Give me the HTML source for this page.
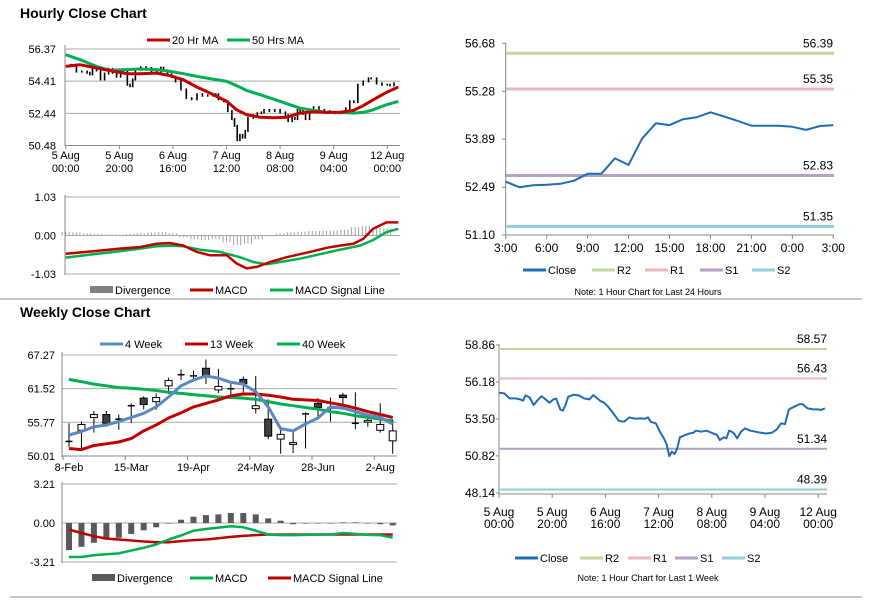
<!DOCTYPE html>
<html><head><meta charset="utf-8"><style>
body{margin:0;background:#fff;}
svg{display:block;font-family:"Liberation Sans",Arial,sans-serif;}
</style></head><body>
<svg id="c" width="873" height="601" xmlns="http://www.w3.org/2000/svg">
<text x="20" y="18" font-size="14" font-weight="bold">Hourly Close Chart</text>
<text x="20" y="317" font-size="14" font-weight="bold">Weekly Close Chart</text>
<line x1="0" y1="299" x2="862" y2="299" stroke="#888" stroke-width="1"/>
<line x1="10" y1="597" x2="862" y2="597" stroke="#888" stroke-width="1"/>
<g id="g"></g>
</svg>
<script>
// ---- Hourly (1 week) close data: hours since 5 Aug 00:00 and close values
const hwHours=[0,2,4,6,8,9,10,11.5,13,14.5,16,17.5,19,20.5,21.5,23,24,25,26,28,30,32,34,35.5,36.5,38,39.5,41,43,45,47,49,51,53,55,56,57,59,60.5,62,63,64,65,66,67,68,70,71.5,73,74,76,78,80,82,83,84.5,85.5,86.5,87.5,88.5,89.5,91,92.5,94.5,96.5,98.5,100.5,102.5,104.5,106,107.5,109,111,113,114,116,118,120,121,122.5];
const hwClose=[55.40,55.35,54.99,54.99,54.92,54.82,55.21,55.06,54.51,54.87,55.16,54.92,54.68,54.92,54.97,54.19,54.10,54.51,55.11,55.26,55.21,54.99,54.92,55.23,55.06,54.82,54.68,54.39,53.90,53.37,53.30,53.61,53.52,53.54,53.52,53.61,53.30,53.18,52.58,52.09,51.68,50.81,51.13,50.96,51.37,52.17,52.33,52.45,52.50,52.65,52.58,52.65,52.50,52.33,51.97,52.17,52.09,52.65,52.58,52.41,52.09,52.58,52.82,52.65,52.58,52.50,52.45,52.50,52.75,53.18,53.13,54.19,54.39,54.58,54.58,54.27,54.19,54.19,54.15,54.27];
const ma20Hours=[0,5.3,11.5,16.5,22.8,27.7,33.9,38.9,43.9,48.9,53.9,60.1,63.8,67.5,72.5,77.5,82.5,87.4,92.4,97.4,102.3,107.3,111.0,114.7,119.7,124.1];
const ma20=[55.31,55.41,55.21,55.05,54.86,54.86,54.90,54.74,54.49,54.05,53.68,53.17,52.66,52.36,52.21,52.17,52.21,52.46,52.54,52.50,52.50,52.62,52.91,53.27,53.72,54.05];
const ma50=[56.02,55.72,55.31,55.07,55.11,55.15,55.11,55.00,54.86,54.70,54.56,54.39,54.13,53.84,53.58,53.31,53.03,52.76,52.62,52.50,52.50,52.46,52.50,52.66,52.97,53.17];
const hTickLabels1=["5 Aug","5 Aug","6 Aug","7 Aug","8 Aug","9 Aug","12 Aug"];
const hTickLabels2=["00:00","20:00","16:00","12:00","08:00","04:00","00:00"];
const hYTicks=[56.37,54.41,52.44,50.48];
// Hourly MACD
const hmHours=[0,10.3,20.2,27.7,33.9,38.9,43.9,48.9,53.9,60.1,63.8,67.5,71.3,76.2,82.5,87.4,92.4,97.4,102.3,107.3,111.0,114.7,119.7,124.1];
const hMacd=[-0.49,-0.42,-0.35,-0.31,-0.22,-0.20,-0.27,-0.44,-0.53,-0.53,-0.75,-0.88,-0.84,-0.71,-0.58,-0.50,-0.42,-0.33,-0.27,-0.22,-0.09,0.18,0.35,0.35];
const hsHours=[0,10.3,20.2,27.7,33.9,40.2,43.9,50.1,57.6,65.0,70.0,75.0,80.0,87.4,94.9,102.3,109.8,114.7,119.7,124.1];
const hSignal=[-0.59,-0.50,-0.42,-0.35,-0.29,-0.27,-0.29,-0.38,-0.44,-0.58,-0.71,-0.77,-0.71,-0.62,-0.50,-0.38,-0.27,-0.12,0.09,0.18];
const hDiv=[0.10,0.08,0.06,0.05,0.03,0.03,0.04,0.06,0.08,0.09,0.06,-0.05,-0.10,-0.12,-0.10,-0.18,-0.26,-0.22,-0.10,-0.02,0.05,0.08,0.10,0.12,0.12,0.13,0.15,0.22,0.25,0.20,0.18];
const hmYTicks=[1.03,0.00,-1.03];
// ---- 24h chart
const dClose=[52.65,52.49,52.55,52.56,52.59,52.68,52.88,52.88,53.33,53.14,53.91,54.35,54.30,54.47,54.53,54.67,54.55,54.42,54.28,54.28,54.28,54.25,54.16,54.27,54.30];
const dLevels=[56.39,55.35,52.83,51.35];
const dYTicks=[56.68,55.28,53.89,52.49,51.10];
const dXLabels=["3:00","6:00","9:00","12:00","15:00","18:00","21:00","0:00","3:00"];
// ---- weekly 1 week chart levels
const wLevels=[58.57,56.43,51.34,48.39];
const wkYTicks=[58.86,56.18,53.50,50.82,48.14];
// ---- Weekly candles
const wOpen=[52.5,54.4,56.6,57.1,56.3,58.6,59.9,59.3,62.0,63.9,63.7,65.0,61.3,61.5,63.1,58.1,56.3,52.9,52.0,57.2,59.0,58.2,60.4,55.6,55.8,54.4,52.6];
const wClose=[52.5,55.4,57.1,55.6,56.3,58.6,58.8,60.0,62.9,63.9,63.7,63.7,61.9,61.5,62.4,58.6,53.4,53.7,52.3,57.2,58.3,58.2,60.0,55.6,56.1,55.4,54.3];
const wHigh=[55.6,55.9,57.7,57.7,57.1,59.0,60.2,60.7,63.4,64.8,64.6,66.5,64.9,62.4,63.6,63.7,59.7,54.6,54.3,57.5,59.9,60.0,60.8,60.9,57.0,59.0,56.3];
const wLow=[51.6,51.3,54.0,55.0,54.5,55.7,58.0,57.9,60.6,63.0,62.8,62.3,60.8,60.1,60.5,57.3,52.9,50.4,50.5,51.3,56.6,55.9,57.9,54.6,55.0,54.0,50.4];
const w4=[53.6,54.2,55.0,55.3,55.9,56.6,57.3,58.4,60.1,62.0,63.0,63.7,63.3,62.6,62.3,61.0,58.4,54.7,54.3,55.5,56.5,58.4,58.2,57.6,57.0,56.6,55.5];
const w13=[51.3,51.1,51.8,52.1,52.4,53.0,54.3,55.3,56.5,57.4,58.4,59.0,59.6,60.3,60.6,60.6,60.4,60.1,59.7,59.6,59.5,59.1,58.7,58.2,57.6,57.1,56.6];
const w40=[63.1,62.7,62.3,62.0,61.7,61.6,61.4,61.2,60.9,60.7,60.5,60.3,60.1,60.0,59.9,59.7,59.3,58.9,58.6,58.3,58.0,57.6,57.3,56.9,56.6,56.3,56.0];
const wXLabels=["8-Feb","15-Mar","19-Apr","24-May","28-Jun","2-Aug"];
const wYTicks=[67.27,61.52,55.77,50.01];
const wDiv=[-2.23,-1.96,-1.63,-1.36,-1.22,-0.9,-0.6,-0.35,-0.05,0.27,0.52,0.65,0.71,0.82,0.82,0.71,0.38,0.19,-0.1,-0.05,-0.03,-0.03,0.05,0.05,-0.03,-0.1,-0.2];
const wMacd=[-2.8,-2.8,-2.66,-2.58,-2.5,-2.26,-2.04,-1.77,-1.36,-1.03,-0.63,-0.49,-0.38,-0.27,-0.35,-0.63,-0.95,-1.0,-1.0,-0.98,-0.95,-0.95,-0.82,-0.9,-0.98,-1.0,-1.2];
const wSignal=[-0.54,-0.82,-1.09,-1.28,-1.36,-1.44,-1.52,-1.58,-1.58,-1.49,-1.41,-1.36,-1.25,-1.14,-1.06,-1.0,-0.95,-0.95,-0.95,-0.95,-0.95,-0.95,-0.95,-0.95,-0.95,-0.95,-0.95];
const wmYTicks=[3.21,0.00,-3.21];

const NS="http://www.w3.org/2000/svg";
const G=document.getElementById('g');
function mk(tag,attrs,parent,txt){const e=document.createElementNS(NS,tag);for(const k in attrs)e.setAttribute(k,attrs[k]);if(txt!==undefined)e.textContent=txt;(parent||G).appendChild(e);return e;}
function poly(xs,ys,fx,fy,color,w,name){const pts=xs.map((x,i)=>fx(x).toFixed(1)+','+fy(ys[i]).toFixed(1)).join(' ');const p=mk('polyline',{points:pts,fill:'none',stroke:color,'stroke-width':w,'stroke-linejoin':'round'});


return p;}
function txt(x,y,s,size,anchor,name){const t=mk('text',{x:x,y:y,'font-size':size,'text-anchor':anchor||'start',fill:'#000'},G,s);


return t;}
function hline(x1,x2,y,color,w,name){const l=mk('line',{x1:x1,x2:x2,y1:y,y2:y,stroke:color,'stroke-width':w});


return l;}
function vline(x,y1,y2,color,w,name){const l=mk('line',{x1:x,x2:x,y1:y1,y2:y2,stroke:color,'stroke-width':w});


return l;}
function legend(x,y,color,label,name,box){if(box){const r=mk('rect',{x:x,y:y-4,width:23,height:7,fill:color});

}
else hline(x,x+23,y,color,3,name+'-swatch');
txt(x+25,y+4,label,11,'start',name);}

// ===== Hourly candle chart =====
const hx=h=>65.7+h*2.68, hy=v=>49+(56.37-v)*(96.5/5.89);
hYTicks.forEach((v,i)=>{hline(65,400,hy(v),i==hYTicks.length-1?'#888':'#aaa',1,'hourly-gridline');txt(56,hy(v)+4,v.toFixed(2),11,'end','hourly-y-label');});
vline(65,45,146,'#888',1,'hourly-y-axis');
hTickLabels1.forEach((s,i)=>{const x=hx(i*20);vline(x,146,149,'#888',1,'hourly-x-tick');txt(x,159,s,11,'middle','hourly-x-label');txt(x,172,hTickLabels2[i],11,'middle','hourly-x-label');});
hwClose.forEach((v,i)=>{if(i==0)return;const a=hy(hwClose[i-1]),b=hy(v);const r=mk('rect',{x:hx(hwHours[i])-0.8,y:Math.min(a,b)-1,width:1.6,height:Math.abs(a-b)+2,fill:'#000'});

});
poly(ma20Hours,ma50,hx,hy,'#00b050',3,'ma50-line');
poly(ma20Hours,ma20,hx,hy,'#c00000',3,'ma20-line');
legend(147,40,'#c00000','20 Hr MA','legend-20hr-ma');
legend(227,40,'#00b050','50 Hrs MA','legend-50hr-ma');
// Hourly MACD
const hmy=v=>235.5+(-v)*(38.5/1.03);
hmYTicks.forEach(v=>{hline(65,400,hmy(v),'#aaa',1,'hourly-macd-gridline');txt(56,hmy(v)+4,v.toFixed(2),11,'end','hourly-macd-y-label');});
vline(65,195,275,'#888',1,'hourly-macd-y-axis');
hDiv.forEach((v,i)=>{const y0=hmy(0),y1=hmy(v);[-3.5,0,3.5].forEach(o=>{const r=mk('rect',{x:hx(i*4)+o-0.5,y:Math.min(y0,y1),width:1,height:Math.max(Math.abs(y1-y0),0.5),fill:'#a0a0a0'});

});});
poly(hsHours,hSignal,hx,hmy,'#00b050',2.5,'hourly-signal-line');
poly(hmHours,hMacd,hx,hmy,'#c00000',2.5,'hourly-macd-line');
legend(90,290,'#808080','Divergence','legend-divergence',true);
legend(190,290,'#c00000','MACD','legend-macd');
legend(270,290,'#00b050','MACD Signal Line','legend-signal');

// ===== 24h chart =====
const dx=h=>505.7+h*13.65, dy=v=>43.3+(56.68-v)*34.35;
vline(505.7,43,235,'#888',1,'day-y-axis');
hline(505.7,834,235,'#888',1,'day-x-axis');
dYTicks.forEach(v=>{txt(495,dy(v)+4,v.toFixed(2),12,'end','day-y-label');hline(502,506,dy(v),'#888',1,'day-y-tick');});
dXLabels.forEach((s,i)=>{vline(dx(i*3),235,239,'#888',1,'day-x-tick');txt(dx(i*3),252,s,12,'middle','day-x-label');});
const lvlColors=['#c3d69b','#e6b9b8','#b3a2c7','#93cddd'];
const lvlNames=['r2','r1','s1','s2'];
dLevels.forEach((v,i)=>{hline(506,834,dy(v),lvlColors[i],3,'day-'+lvlNames[i]+'-line');txt(833,dy(v)-6,v.toFixed(2),12,'end','day-'+lvlNames[i]+'-label');});
poly(dClose.map((v,i)=>i),dClose,dx,dy,'#1f6db5',2,'day-close-line');
legend(523,270,'#1f6db5','Close','legend-day-close');
legend(592,270,lvlColors[0],'R2','legend-day-r2');
legend(645,270,lvlColors[1],'R1','legend-day-r1');
legend(700,270,lvlColors[2],'S1','legend-day-s1');
legend(752,270,lvlColors[3],'S2','legend-day-s2');
txt(648,295,'Note: 1 Hour Chart for Last 24 Hours',9,'middle','day-note');

// ===== 1 week chart =====
const kx=h=>499+h*2.66, ky=v=>345+(58.86-v)*13.8;
vline(499,344,494,'#888',1,'week-y-axis');
hline(499,827,494,'#888',1,'week-x-axis');
wkYTicks.forEach(v=>{txt(495,ky(v)+4,v.toFixed(2),12,'end','week-y-label');hline(496,499,ky(v),'#888',1,'week-y-tick');});
hTickLabels1.forEach((s,i)=>{const x=kx(i*20);vline(x,494,498,'#888',1,'week-x-tick');txt(x,516,s,12,'middle','week-x-label');txt(x,528,hTickLabels2[i],12,'middle','week-x-label');});
wLevels.forEach((v,i)=>{hline(499,827,ky(v),lvlColors[i],2,'week-'+lvlNames[i]+'-line');txt(827,ky(v)-6,v.toFixed(2),12,'end','week-'+lvlNames[i]+'-label');});
poly(hwHours,hwClose,kx,ky,'#1f6db5',2,'week-close-line');
legend(515,558,'#1f6db5','Close','legend-week-close');
legend(580,558,lvlColors[0],'R2','legend-week-r2');
legend(628,558,lvlColors[1],'R1','legend-week-r1');
legend(675,558,lvlColors[2],'S1','legend-week-s1');
legend(722,558,lvlColors[3],'S2','legend-week-s2');
txt(648,581,'Note: 1 Hour Chart for Last 1 Week',9,'middle','week-note');

// ===== Weekly candle chart =====
const wx=i=>69+i*12.45, wy=v=>355+(67.27-v)*(101/17.26);
wYTicks.forEach((v,i)=>{hline(62,397,wy(v),i==wYTicks.length-1?'#888':'#aaa',1,'weekly-gridline');txt(55,wy(v)+4,v.toFixed(2),11,'end','weekly-y-label');});
vline(62,352,457,'#888',1,'weekly-y-axis');
wXLabels.forEach((s,i)=>{const x=wx(i*5);vline(x-6,456,460,'#888',1,'weekly-x-tick');txt(x,471,s,11,'middle','weekly-x-label');});
wOpen.forEach((o,i)=>{const c=wClose[i],x=wx(i);vline(x,wy(wHigh[i]),wy(wLow[i]),'#000',1,'weekly-wick');
const top=wy(Math.max(o,c)),bot=wy(Math.min(o,c));
if(bot-top<1.5){hline(x-3.5,x+3.5,top,'#000',1.5,'weekly-doji');return;}
const r=mk('rect',{x:x-3.5,y:top,width:7,height:bot-top,fill:c>o?'#fff':'#404040',stroke:'#000','stroke-width':1});

});
const idx=w4.map((v,i)=>i);
poly(idx,w40,wx,wy,'#00b050',3,'week40-line');
poly(idx,w13,wx,wy,'#c00000',3,'week13-line');
poly(idx,w4,wx,wy,'#5b87c4',3,'week4-line');
legend(100,344,'#5b87c4','4 Week','legend-4week');
legend(185,344,'#c00000','13 Week','legend-13week');
legend(277,344,'#00b050','40 Week','legend-40week');
// Weekly MACD
const wmy=v=>523+(-v)*(39/3.21);
wmYTicks.forEach(v=>{hline(62,397,wmy(v),'#aaa',1,'weekly-macd-gridline');txt(55,wmy(v)+4,v.toFixed(2),11,'end','weekly-macd-y-label');});
vline(62,482,563,'#888',1,'weekly-macd-y-axis');
wDiv.forEach((v,i)=>{const y0=wmy(0),y1=wmy(v);const r=mk('rect',{x:wx(i)-3,y:Math.min(y0,y1),width:6,height:Math.max(Math.abs(y1-y0),0.5),fill:'#595959'});

});
poly(idx,wSignal,wx,wmy,'#c00000',2.5,'weekly-signal-line');
poly(idx,wMacd,wx,wmy,'#00b050',2.5,'weekly-macd-line');
legend(92,578,'#595959','Divergence','legend-weekly-divergence',true);
legend(190,578,'#00b050','MACD','legend-weekly-macd');
legend(268,578,'#c00000','MACD Signal Line','legend-weekly-signal');
</script>
</body></html>
